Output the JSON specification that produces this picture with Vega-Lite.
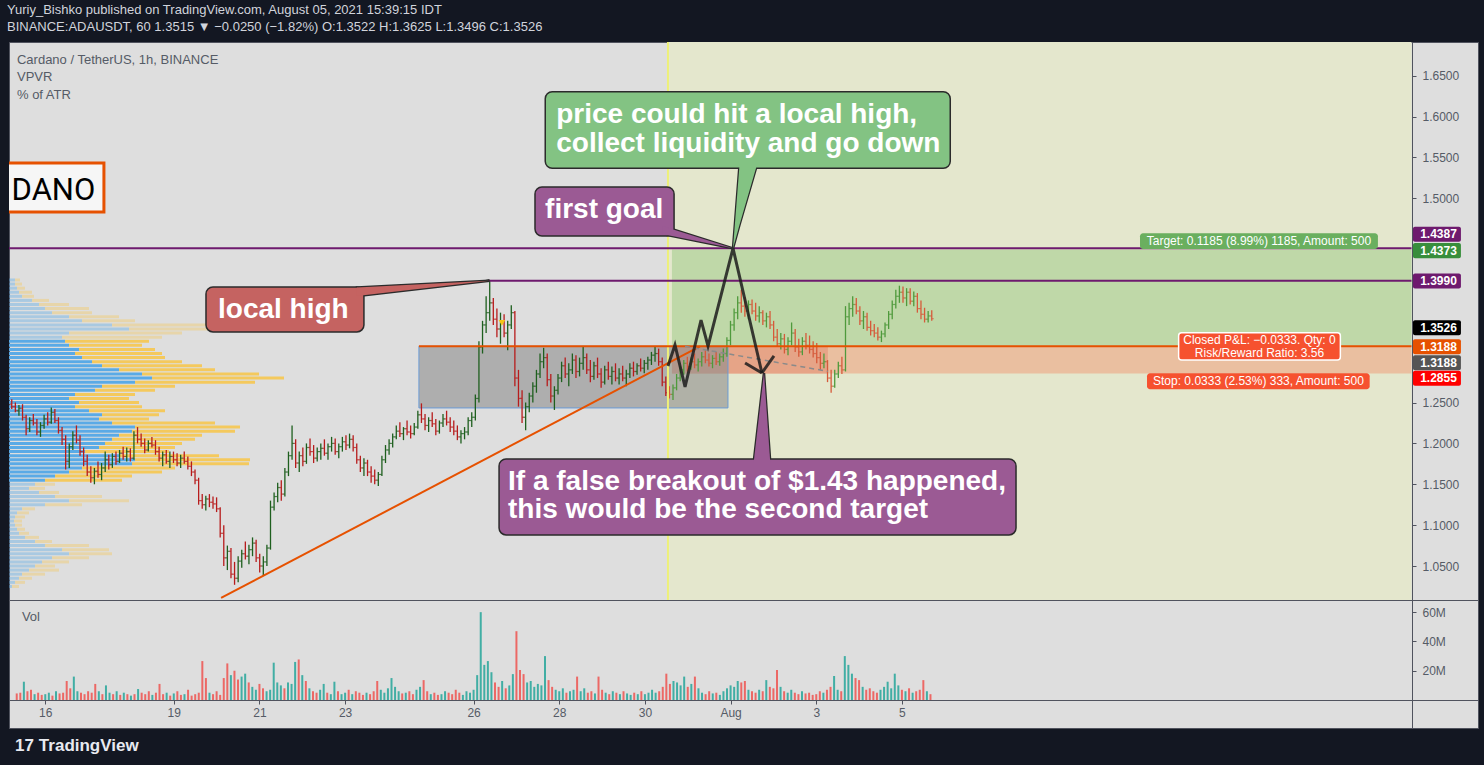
{
"$schema": "https://vega.github.io/schema/vega-lite/v6.json",
"background": "#131722",
"padding": {"left": 7, "right": 8, "top": 3, "bottom": 10},
"bounds": "flush",
"title": {"text": "Yuriy_Bishko published on TradingView.com, August 05, 2021 15:39:15 IDT", "subtitle": "BINANCE:ADAUSDT, 60  1.3515 ▼ −0.0250 (−1.82%)  O:1.3522  H:1.3625  L:1.3496  C:1.3526", "anchor": "start", "font": "Liberation Sans", "fontSize": 13, "fontWeight": "normal", "color": "#d1d4dc", "subtitleFont": "Liberation Sans", "subtitleFontSize": 13, "subtitleColor": "#d1d4dc", "subtitleFontWeight": "normal", "subtitlePadding": 4, "offset": 7},
"config": {
  "view": {"stroke": "#50535e", "strokeWidth": 1, "fill": "#dedede"},
  "legend": {"disable": true},
  "axis": {"grid": false, "domainColor": "#50535e", "tickColor": "#50535e", "labelColor": "#555b66", "labelFont": "Liberation Sans", "labelFontSize": 12, "tickSize": 4}
},
"spacing": 0,
"datasets": {
"bars": [
{"t":-16,"o":1.248,"hi":1.254,"lo":1.242,"c":1.245,"v":4.5},
{"t":-14,"o":1.245,"hi":1.25,"lo":1.238,"c":1.24,"v":5},
{"t":-12,"o":1.24,"hi":1.247,"lo":1.234,"c":1.243,"v":12.5},
{"t":-10,"o":1.243,"hi":1.248,"lo":1.228,"c":1.232,"v":6},
{"t":-8,"o":1.232,"hi":1.235,"lo":1.21,"c":1.218,"v":7},
{"t":-6,"o":1.218,"hi":1.232,"lo":1.214,"c":1.228,"v":4},
{"t":-4,"o":1.228,"hi":1.236,"lo":1.222,"c":1.225,"v":5},
{"t":-2,"o":1.225,"hi":1.23,"lo":1.21,"c":1.214,"v":3.5},
{"t":0,"o":1.214,"hi":1.226,"lo":1.208,"c":1.222,"v":4},
{"t":2,"o":1.222,"hi":1.235,"lo":1.218,"c":1.23,"v":5},
{"t":4,"o":1.23,"hi":1.238,"lo":1.222,"c":1.226,"v":3},
{"t":6,"o":1.226,"hi":1.244,"lo":1.224,"c":1.238,"v":6},
{"t":8,"o":1.238,"hi":1.242,"lo":1.225,"c":1.228,"v":4.5},
{"t":10,"o":1.228,"hi":1.232,"lo":1.212,"c":1.216,"v":5},
{"t":12,"o":1.216,"hi":1.22,"lo":1.198,"c":1.205,"v":13},
{"t":14,"o":1.205,"hi":1.21,"lo":1.168,"c":1.178,"v":8},
{"t":16,"o":1.178,"hi":1.2,"lo":1.17,"c":1.196,"v":16},
{"t":18,"o":1.196,"hi":1.215,"lo":1.192,"c":1.21,"v":6},
{"t":20,"o":1.21,"hi":1.222,"lo":1.2,"c":1.204,"v":5},
{"t":22,"o":1.204,"hi":1.21,"lo":1.185,"c":1.19,"v":4},
{"t":24,"o":1.19,"hi":1.195,"lo":1.172,"c":1.178,"v":6},
{"t":26,"o":1.178,"hi":1.186,"lo":1.16,"c":1.165,"v":5},
{"t":28,"o":1.165,"hi":1.172,"lo":1.152,"c":1.158,"v":11},
{"t":30,"o":1.158,"hi":1.17,"lo":1.15,"c":1.166,"v":6},
{"t":32,"o":1.166,"hi":1.178,"lo":1.158,"c":1.162,"v":4},
{"t":34,"o":1.162,"hi":1.176,"lo":1.155,"c":1.17,"v":10},
{"t":36,"o":1.17,"hi":1.19,"lo":1.165,"c":1.18,"v":5},
{"t":38,"o":1.18,"hi":1.186,"lo":1.168,"c":1.174,"v":4},
{"t":40,"o":1.174,"hi":1.188,"lo":1.17,"c":1.184,"v":6},
{"t":42,"o":1.184,"hi":1.19,"lo":1.174,"c":1.178,"v":3.5},
{"t":44,"o":1.178,"hi":1.192,"lo":1.176,"c":1.188,"v":5},
{"t":46,"o":1.188,"hi":1.196,"lo":1.18,"c":1.184,"v":4},
{"t":48,"o":1.184,"hi":1.195,"lo":1.178,"c":1.19,"v":3},
{"t":50,"o":1.19,"hi":1.194,"lo":1.178,"c":1.182,"v":4},
{"t":52,"o":1.182,"hi":1.215,"lo":1.18,"c":1.21,"v":7.5},
{"t":54,"o":1.21,"hi":1.22,"lo":1.2,"c":1.205,"v":5},
{"t":56,"o":1.205,"hi":1.212,"lo":1.196,"c":1.2,"v":4},
{"t":58,"o":1.2,"hi":1.206,"lo":1.188,"c":1.192,"v":6},
{"t":60,"o":1.192,"hi":1.204,"lo":1.19,"c":1.2,"v":3.5},
{"t":62,"o":1.2,"hi":1.208,"lo":1.195,"c":1.198,"v":5},
{"t":64,"o":1.198,"hi":1.204,"lo":1.186,"c":1.19,"v":11},
{"t":66,"o":1.19,"hi":1.196,"lo":1.178,"c":1.182,"v":4},
{"t":68,"o":1.182,"hi":1.19,"lo":1.172,"c":1.186,"v":5},
{"t":70,"o":1.186,"hi":1.192,"lo":1.175,"c":1.178,"v":3},
{"t":72,"o":1.178,"hi":1.19,"lo":1.17,"c":1.184,"v":4.5},
{"t":74,"o":1.184,"hi":1.19,"lo":1.176,"c":1.18,"v":6},
{"t":76,"o":1.18,"hi":1.188,"lo":1.172,"c":1.176,"v":3.5},
{"t":78,"o":1.176,"hi":1.186,"lo":1.17,"c":1.182,"v":4},
{"t":80,"o":1.182,"hi":1.19,"lo":1.175,"c":1.178,"v":7},
{"t":82,"o":1.178,"hi":1.184,"lo":1.168,"c":1.172,"v":3},
{"t":84,"o":1.172,"hi":1.178,"lo":1.16,"c":1.165,"v":4},
{"t":86,"o":1.165,"hi":1.168,"lo":1.15,"c":1.155,"v":5},
{"t":88,"o":1.155,"hi":1.158,"lo":1.125,"c":1.13,"v":26.6},
{"t":90,"o":1.13,"hi":1.138,"lo":1.12,"c":1.125,"v":15},
{"t":92,"o":1.125,"hi":1.136,"lo":1.118,"c":1.132,"v":5},
{"t":94,"o":1.132,"hi":1.138,"lo":1.122,"c":1.128,"v":4},
{"t":96,"o":1.128,"hi":1.135,"lo":1.12,"c":1.126,"v":6},
{"t":98,"o":1.126,"hi":1.134,"lo":1.116,"c":1.12,"v":3.5},
{"t":100,"o":1.12,"hi":1.122,"lo":1.085,"c":1.09,"v":15},
{"t":102,"o":1.09,"hi":1.1,"lo":1.05,"c":1.06,"v":25},
{"t":104,"o":1.06,"hi":1.075,"lo":1.045,"c":1.068,"v":17},
{"t":106,"o":1.068,"hi":1.072,"lo":1.035,"c":1.04,"v":20},
{"t":108,"o":1.04,"hi":1.055,"lo":1.027,"c":1.035,"v":14},
{"t":110,"o":1.035,"hi":1.062,"lo":1.03,"c":1.056,"v":16},
{"t":112,"o":1.056,"hi":1.07,"lo":1.048,"c":1.065,"v":18},
{"t":114,"o":1.065,"hi":1.08,"lo":1.058,"c":1.062,"v":12},
{"t":116,"o":1.062,"hi":1.076,"lo":1.052,"c":1.07,"v":9},
{"t":118,"o":1.07,"hi":1.085,"lo":1.062,"c":1.078,"v":7},
{"t":120,"o":1.078,"hi":1.082,"lo":1.055,"c":1.06,"v":11},
{"t":122,"o":1.06,"hi":1.065,"lo":1.042,"c":1.05,"v":8},
{"t":124,"o":1.05,"hi":1.062,"lo":1.038,"c":1.055,"v":6},
{"t":126,"o":1.055,"hi":1.076,"lo":1.05,"c":1.072,"v":7},
{"t":128,"o":1.072,"hi":1.13,"lo":1.07,"c":1.122,"v":25.5},
{"t":130,"o":1.122,"hi":1.14,"lo":1.118,"c":1.135,"v":12},
{"t":132,"o":1.135,"hi":1.152,"lo":1.128,"c":1.146,"v":10},
{"t":134,"o":1.146,"hi":1.155,"lo":1.13,"c":1.138,"v":8},
{"t":136,"o":1.138,"hi":1.17,"lo":1.135,"c":1.165,"v":12},
{"t":138,"o":1.165,"hi":1.19,"lo":1.16,"c":1.185,"v":11},
{"t":140,"o":1.185,"hi":1.222,"lo":1.18,"c":1.2,"v":26},
{"t":142,"o":1.2,"hi":1.205,"lo":1.17,"c":1.176,"v":27.7},
{"t":144,"o":1.176,"hi":1.19,"lo":1.165,"c":1.185,"v":17},
{"t":146,"o":1.185,"hi":1.195,"lo":1.172,"c":1.178,"v":13},
{"t":148,"o":1.178,"hi":1.2,"lo":1.175,"c":1.195,"v":8},
{"t":150,"o":1.195,"hi":1.206,"lo":1.185,"c":1.19,"v":6},
{"t":152,"o":1.19,"hi":1.198,"lo":1.176,"c":1.182,"v":5},
{"t":154,"o":1.182,"hi":1.195,"lo":1.178,"c":1.19,"v":7},
{"t":156,"o":1.19,"hi":1.2,"lo":1.18,"c":1.194,"v":11},
{"t":158,"o":1.194,"hi":1.205,"lo":1.185,"c":1.188,"v":5},
{"t":160,"o":1.188,"hi":1.2,"lo":1.18,"c":1.196,"v":4},
{"t":162,"o":1.196,"hi":1.208,"lo":1.19,"c":1.2,"v":12.5},
{"t":164,"o":1.2,"hi":1.206,"lo":1.186,"c":1.19,"v":6},
{"t":166,"o":1.19,"hi":1.2,"lo":1.182,"c":1.196,"v":4},
{"t":168,"o":1.196,"hi":1.208,"lo":1.19,"c":1.202,"v":5},
{"t":170,"o":1.202,"hi":1.21,"lo":1.192,"c":1.198,"v":7},
{"t":172,"o":1.198,"hi":1.212,"lo":1.194,"c":1.205,"v":4},
{"t":174,"o":1.205,"hi":1.21,"lo":1.19,"c":1.195,"v":6},
{"t":176,"o":1.195,"hi":1.2,"lo":1.175,"c":1.18,"v":5},
{"t":178,"o":1.18,"hi":1.185,"lo":1.165,"c":1.17,"v":3.5},
{"t":180,"o":1.17,"hi":1.182,"lo":1.16,"c":1.176,"v":5},
{"t":182,"o":1.176,"hi":1.18,"lo":1.16,"c":1.165,"v":4},
{"t":184,"o":1.165,"hi":1.172,"lo":1.152,"c":1.16,"v":6},
{"t":186,"o":1.16,"hi":1.168,"lo":1.15,"c":1.155,"v":13},
{"t":188,"o":1.155,"hi":1.165,"lo":1.148,"c":1.162,"v":7},
{"t":190,"o":1.162,"hi":1.185,"lo":1.16,"c":1.18,"v":5},
{"t":192,"o":1.18,"hi":1.198,"lo":1.176,"c":1.192,"v":8},
{"t":194,"o":1.192,"hi":1.205,"lo":1.186,"c":1.2,"v":15},
{"t":196,"o":1.2,"hi":1.212,"lo":1.195,"c":1.208,"v":9},
{"t":198,"o":1.208,"hi":1.222,"lo":1.205,"c":1.215,"v":6},
{"t":200,"o":1.215,"hi":1.226,"lo":1.208,"c":1.212,"v":4.5},
{"t":202,"o":1.212,"hi":1.22,"lo":1.204,"c":1.218,"v":5},
{"t":204,"o":1.218,"hi":1.228,"lo":1.21,"c":1.214,"v":6},
{"t":206,"o":1.214,"hi":1.222,"lo":1.206,"c":1.212,"v":4},
{"t":208,"o":1.212,"hi":1.225,"lo":1.21,"c":1.22,"v":7},
{"t":210,"o":1.22,"hi":1.24,"lo":1.218,"c":1.235,"v":9},
{"t":212,"o":1.235,"hi":1.249,"lo":1.225,"c":1.23,"v":13.6},
{"t":214,"o":1.23,"hi":1.236,"lo":1.216,"c":1.222,"v":6},
{"t":216,"o":1.222,"hi":1.232,"lo":1.214,"c":1.228,"v":4},
{"t":218,"o":1.228,"hi":1.238,"lo":1.22,"c":1.224,"v":5},
{"t":220,"o":1.224,"hi":1.23,"lo":1.21,"c":1.215,"v":3.5},
{"t":222,"o":1.215,"hi":1.228,"lo":1.212,"c":1.225,"v":4},
{"t":224,"o":1.225,"hi":1.236,"lo":1.22,"c":1.23,"v":6},
{"t":226,"o":1.23,"hi":1.24,"lo":1.222,"c":1.226,"v":5},
{"t":228,"o":1.226,"hi":1.232,"lo":1.214,"c":1.22,"v":4},
{"t":230,"o":1.22,"hi":1.228,"lo":1.21,"c":1.215,"v":7},
{"t":232,"o":1.215,"hi":1.222,"lo":1.204,"c":1.208,"v":5},
{"t":234,"o":1.208,"hi":1.216,"lo":1.2,"c":1.212,"v":3.5},
{"t":236,"o":1.212,"hi":1.22,"lo":1.205,"c":1.214,"v":6},
{"t":238,"o":1.214,"hi":1.232,"lo":1.21,"c":1.228,"v":5},
{"t":240,"o":1.228,"hi":1.238,"lo":1.22,"c":1.232,"v":7},
{"t":242,"o":1.232,"hi":1.26,"lo":1.228,"c":1.255,"v":17},
{"t":244,"o":1.255,"hi":1.325,"lo":1.25,"c":1.318,"v":60},
{"t":246,"o":1.318,"hi":1.35,"lo":1.31,"c":1.345,"v":24},
{"t":248,"o":1.345,"hi":1.38,"lo":1.335,"c":1.36,"v":26.6},
{"t":250,"o":1.36,"hi":1.399,"lo":1.35,"c":1.372,"v":19},
{"t":252,"o":1.372,"hi":1.378,"lo":1.345,"c":1.352,"v":12},
{"t":254,"o":1.352,"hi":1.365,"lo":1.33,"c":1.34,"v":9},
{"t":256,"o":1.34,"hi":1.36,"lo":1.322,"c":1.35,"v":13},
{"t":258,"o":1.35,"hi":1.358,"lo":1.33,"c":1.335,"v":8},
{"t":260,"o":1.335,"hi":1.35,"lo":1.314,"c":1.345,"v":10},
{"t":262,"o":1.345,"hi":1.369,"lo":1.34,"c":1.36,"v":17.7},
{"t":264,"o":1.36,"hi":1.362,"lo":1.27,"c":1.28,"v":47},
{"t":266,"o":1.28,"hi":1.29,"lo":1.245,"c":1.255,"v":20.5},
{"t":268,"o":1.255,"hi":1.265,"lo":1.225,"c":1.232,"v":17.7},
{"t":270,"o":1.232,"hi":1.25,"lo":1.216,"c":1.245,"v":12},
{"t":272,"o":1.245,"hi":1.262,"lo":1.238,"c":1.258,"v":13},
{"t":274,"o":1.258,"hi":1.275,"lo":1.25,"c":1.27,"v":9},
{"t":276,"o":1.27,"hi":1.29,"lo":1.262,"c":1.285,"v":11},
{"t":278,"o":1.285,"hi":1.31,"lo":1.28,"c":1.3,"v":10},
{"t":280,"o":1.3,"hi":1.317,"lo":1.292,"c":1.305,"v":30},
{"t":282,"o":1.305,"hi":1.31,"lo":1.27,"c":1.278,"v":13.6},
{"t":284,"o":1.278,"hi":1.285,"lo":1.25,"c":1.258,"v":9},
{"t":286,"o":1.258,"hi":1.27,"lo":1.241,"c":1.265,"v":7},
{"t":288,"o":1.265,"hi":1.285,"lo":1.26,"c":1.28,"v":6},
{"t":290,"o":1.28,"hi":1.3,"lo":1.275,"c":1.295,"v":8},
{"t":292,"o":1.295,"hi":1.305,"lo":1.28,"c":1.285,"v":5},
{"t":294,"o":1.285,"hi":1.298,"lo":1.27,"c":1.29,"v":6},
{"t":296,"o":1.29,"hi":1.31,"lo":1.285,"c":1.302,"v":7},
{"t":298,"o":1.302,"hi":1.308,"lo":1.28,"c":1.288,"v":16},
{"t":300,"o":1.288,"hi":1.305,"lo":1.282,"c":1.298,"v":6},
{"t":302,"o":1.298,"hi":1.318,"lo":1.29,"c":1.305,"v":8},
{"t":304,"o":1.305,"hi":1.31,"lo":1.285,"c":1.29,"v":5},
{"t":306,"o":1.29,"hi":1.302,"lo":1.275,"c":1.282,"v":6},
{"t":308,"o":1.282,"hi":1.3,"lo":1.278,"c":1.295,"v":4.5},
{"t":310,"o":1.295,"hi":1.305,"lo":1.28,"c":1.285,"v":16},
{"t":312,"o":1.285,"hi":1.292,"lo":1.268,"c":1.275,"v":7},
{"t":314,"o":1.275,"hi":1.295,"lo":1.272,"c":1.29,"v":5},
{"t":316,"o":1.29,"hi":1.3,"lo":1.278,"c":1.282,"v":4},
{"t":318,"o":1.282,"hi":1.294,"lo":1.272,"c":1.288,"v":6},
{"t":320,"o":1.288,"hi":1.298,"lo":1.276,"c":1.28,"v":5},
{"t":322,"o":1.28,"hi":1.292,"lo":1.272,"c":1.285,"v":4},
{"t":324,"o":1.285,"hi":1.295,"lo":1.276,"c":1.28,"v":6},
{"t":326,"o":1.28,"hi":1.29,"lo":1.27,"c":1.285,"v":4.5},
{"t":328,"o":1.285,"hi":1.298,"lo":1.28,"c":1.292,"v":3.5},
{"t":330,"o":1.292,"hi":1.3,"lo":1.282,"c":1.288,"v":5},
{"t":332,"o":1.288,"hi":1.298,"lo":1.284,"c":1.295,"v":4},
{"t":334,"o":1.295,"hi":1.304,"lo":1.288,"c":1.292,"v":6},
{"t":336,"o":1.292,"hi":1.302,"lo":1.286,"c":1.298,"v":4},
{"t":338,"o":1.298,"hi":1.306,"lo":1.29,"c":1.302,"v":5},
{"t":340,"o":1.302,"hi":1.312,"lo":1.296,"c":1.308,"v":7},
{"t":342,"o":1.308,"hi":1.318,"lo":1.3,"c":1.31,"v":5},
{"t":344,"o":1.31,"hi":1.316,"lo":1.295,"c":1.3,"v":6},
{"t":346,"o":1.3,"hi":1.305,"lo":1.27,"c":1.275,"v":9},
{"t":348,"o":1.275,"hi":1.282,"lo":1.258,"c":1.262,"v":18},
{"t":350,"o":1.262,"hi":1.27,"lo":1.255,"c":1.26,"v":11},
{"t":352,"o":1.26,"hi":1.272,"lo":1.253,"c":1.268,"v":13},
{"t":354,"o":1.268,"hi":1.285,"lo":1.265,"c":1.28,"v":12},
{"t":356,"o":1.28,"hi":1.295,"lo":1.276,"c":1.29,"v":10},
{"t":358,"o":1.29,"hi":1.302,"lo":1.284,"c":1.298,"v":16},
{"t":360,"o":1.298,"hi":1.306,"lo":1.288,"c":1.294,"v":9},
{"t":362,"o":1.294,"hi":1.305,"lo":1.29,"c":1.3,"v":11},
{"t":364,"o":1.3,"hi":1.31,"lo":1.292,"c":1.296,"v":16},
{"t":366,"o":1.296,"hi":1.304,"lo":1.288,"c":1.3,"v":8},
{"t":368,"o":1.3,"hi":1.312,"lo":1.294,"c":1.306,"v":5},
{"t":370,"o":1.306,"hi":1.314,"lo":1.298,"c":1.302,"v":4},
{"t":372,"o":1.302,"hi":1.31,"lo":1.294,"c":1.298,"v":6},
{"t":374,"o":1.298,"hi":1.308,"lo":1.292,"c":1.304,"v":4.5},
{"t":376,"o":1.304,"hi":1.312,"lo":1.296,"c":1.3,"v":5},
{"t":378,"o":1.3,"hi":1.31,"lo":1.295,"c":1.306,"v":3.5},
{"t":380,"o":1.306,"hi":1.316,"lo":1.3,"c":1.31,"v":6},
{"t":382,"o":1.31,"hi":1.33,"lo":1.306,"c":1.326,"v":8},
{"t":384,"o":1.326,"hi":1.35,"lo":1.32,"c":1.345,"v":10},
{"t":386,"o":1.345,"hi":1.365,"lo":1.338,"c":1.36,"v":9},
{"t":388,"o":1.36,"hi":1.38,"lo":1.352,"c":1.372,"v":13},
{"t":390,"o":1.372,"hi":1.388,"lo":1.36,"c":1.368,"v":12},
{"t":392,"o":1.368,"hi":1.379,"lo":1.355,"c":1.362,"v":13},
{"t":394,"o":1.362,"hi":1.375,"lo":1.352,"c":1.37,"v":7},
{"t":396,"o":1.37,"hi":1.376,"lo":1.358,"c":1.362,"v":6},
{"t":398,"o":1.362,"hi":1.372,"lo":1.35,"c":1.356,"v":5},
{"t":400,"o":1.356,"hi":1.368,"lo":1.348,"c":1.36,"v":7},
{"t":402,"o":1.36,"hi":1.363,"lo":1.345,"c":1.35,"v":6},
{"t":404,"o":1.35,"hi":1.36,"lo":1.342,"c":1.355,"v":13.6},
{"t":406,"o":1.355,"hi":1.362,"lo":1.34,"c":1.345,"v":9},
{"t":408,"o":1.345,"hi":1.35,"lo":1.325,"c":1.33,"v":8},
{"t":410,"o":1.33,"hi":1.34,"lo":1.318,"c":1.322,"v":20.5},
{"t":412,"o":1.322,"hi":1.335,"lo":1.315,"c":1.328,"v":9},
{"t":414,"o":1.328,"hi":1.334,"lo":1.31,"c":1.315,"v":6},
{"t":416,"o":1.315,"hi":1.33,"lo":1.308,"c":1.325,"v":5},
{"t":418,"o":1.325,"hi":1.348,"lo":1.32,"c":1.335,"v":7},
{"t":420,"o":1.335,"hi":1.34,"lo":1.312,"c":1.318,"v":5},
{"t":422,"o":1.318,"hi":1.328,"lo":1.306,"c":1.312,"v":4},
{"t":424,"o":1.312,"hi":1.33,"lo":1.308,"c":1.325,"v":6},
{"t":426,"o":1.325,"hi":1.335,"lo":1.315,"c":1.32,"v":4.5},
{"t":428,"o":1.32,"hi":1.332,"lo":1.31,"c":1.315,"v":5},
{"t":430,"o":1.315,"hi":1.325,"lo":1.305,"c":1.31,"v":3.5},
{"t":432,"o":1.31,"hi":1.323,"lo":1.298,"c":1.305,"v":4},
{"t":434,"o":1.305,"hi":1.312,"lo":1.29,"c":1.298,"v":6},
{"t":436,"o":1.298,"hi":1.31,"lo":1.292,"c":1.3,"v":5},
{"t":438,"o":1.3,"hi":1.302,"lo":1.275,"c":1.28,"v":7},
{"t":440,"o":1.28,"hi":1.29,"lo":1.262,"c":1.27,"v":9},
{"t":442,"o":1.27,"hi":1.29,"lo":1.268,"c":1.285,"v":16.4},
{"t":444,"o":1.285,"hi":1.3,"lo":1.28,"c":1.295,"v":7},
{"t":446,"o":1.295,"hi":1.306,"lo":1.285,"c":1.29,"v":6},
{"t":448,"o":1.29,"hi":1.368,"lo":1.288,"c":1.355,"v":30},
{"t":450,"o":1.355,"hi":1.372,"lo":1.345,"c":1.365,"v":24},
{"t":452,"o":1.365,"hi":1.38,"lo":1.355,"c":1.37,"v":18},
{"t":454,"o":1.37,"hi":1.378,"lo":1.358,"c":1.362,"v":15},
{"t":456,"o":1.362,"hi":1.368,"lo":1.345,"c":1.35,"v":13.6},
{"t":458,"o":1.35,"hi":1.362,"lo":1.34,"c":1.355,"v":9},
{"t":460,"o":1.355,"hi":1.36,"lo":1.338,"c":1.342,"v":7},
{"t":462,"o":1.342,"hi":1.35,"lo":1.332,"c":1.338,"v":8},
{"t":464,"o":1.338,"hi":1.346,"lo":1.33,"c":1.335,"v":6},
{"t":466,"o":1.335,"hi":1.342,"lo":1.326,"c":1.33,"v":5},
{"t":468,"o":1.33,"hi":1.338,"lo":1.324,"c":1.334,"v":7},
{"t":470,"o":1.334,"hi":1.348,"lo":1.33,"c":1.345,"v":9},
{"t":472,"o":1.345,"hi":1.362,"lo":1.34,"c":1.358,"v":12.5},
{"t":474,"o":1.358,"hi":1.375,"lo":1.352,"c":1.37,"v":8},
{"t":476,"o":1.37,"hi":1.388,"lo":1.365,"c":1.38,"v":18},
{"t":478,"o":1.38,"hi":1.393,"lo":1.372,"c":1.385,"v":10},
{"t":480,"o":1.385,"hi":1.392,"lo":1.372,"c":1.378,"v":7},
{"t":482,"o":1.378,"hi":1.39,"lo":1.368,"c":1.385,"v":6},
{"t":484,"o":1.385,"hi":1.39,"lo":1.37,"c":1.374,"v":8},
{"t":486,"o":1.374,"hi":1.386,"lo":1.368,"c":1.38,"v":5},
{"t":488,"o":1.38,"hi":1.384,"lo":1.36,"c":1.365,"v":6},
{"t":490,"o":1.365,"hi":1.375,"lo":1.352,"c":1.358,"v":7},
{"t":492,"o":1.358,"hi":1.366,"lo":1.348,"c":1.352,"v":13.6},
{"t":494,"o":1.352,"hi":1.362,"lo":1.348,"c":1.356,"v":6},
{"t":496,"o":1.356,"hi":1.363,"lo":1.35,"c":1.3526,"v":4}
],
"profile": [
{"p":1.4,"x0":-17.53,"xu":-14.19,"xt":-11.41},{"p":1.395,"x0":-17.53,"xu":-14.19,"xt":-10.3},{"p":1.39,"x0":-17.53,"xu":-13.08,"xt":-8.63},
{"p":1.385,"x0":-17.53,"xu":-11.96,"xt":-4.73},{"p":1.38,"x0":-17.53,"xu":-10.3,"xt":-3.62},{"p":1.375,"x0":-17.53,"xu":-4.73,"xt":4.73},
{"p":1.37,"x0":-17.53,"xu":-0.83,"xt":15.86},{"p":1.365,"x0":-17.53,"xu":2.5,"xt":26.99},{"p":1.36,"x0":-17.53,"xu":6.4,"xt":28.66},
{"p":1.355,"x0":-17.53,"xu":15.86,"xt":43.69},{"p":1.35,"x0":-17.53,"xu":23.1,"xt":52.59},{"p":1.345,"x0":-17.53,"xu":39.79,"xt":116.03},
{"p":1.34,"x0":-17.53,"xu":49.25,"xt":108.24},{"p":1.335,"x0":-17.53,"xu":15.86,"xt":78.75},{"p":1.33,"x0":-17.53,"xu":11.97,"xt":67.62},
{"p":1.325,"x0":-17.53,"xu":13.64,"xt":60.38},{"p":1.32,"x0":-17.53,"xu":15.86,"xt":56.49},{"p":1.315,"x0":-17.53,"xu":21.43,"xt":63.72},
{"p":1.31,"x0":-17.53,"xu":19.2,"xt":67.62},{"p":1.305,"x0":-17.53,"xu":23.1,"xt":69.29},{"p":1.3,"x0":-17.53,"xu":28.66,"xt":78.75},
{"p":1.295,"x0":-17.53,"xu":34.23,"xt":89.88},{"p":1.29,"x0":-17.53,"xu":43.69,"xt":97.11},{"p":1.285,"x0":-17.53,"xu":56.49,"xt":121.6},
{"p":1.28,"x0":-17.53,"xu":62.05,"xt":135.51},{"p":1.275,"x0":-17.53,"xu":52.59,"xt":119.37},{"p":1.27,"x0":-17.53,"xu":34.23,"xt":74.85},
{"p":1.265,"x0":-17.53,"xu":30.33,"xt":63.72},{"p":1.26,"x0":-17.53,"xu":19.2,"xt":52.59},{"p":1.255,"x0":-17.53,"xu":15.86,"xt":49.25},
{"p":1.25,"x0":-17.53,"xu":21.43,"xt":54.82},{"p":1.245,"x0":-17.53,"xu":19.2,"xt":56.49},{"p":1.24,"x0":-17.53,"xu":26.99,"xt":69.29},
{"p":1.235,"x0":-17.53,"xu":34.23,"xt":65.95},{"p":1.23,"x0":-17.53,"xu":32.56,"xt":60.38},{"p":1.225,"x0":-17.53,"xu":39.79,"xt":97.11},
{"p":1.22,"x0":-17.53,"xu":52.59,"xt":111.03},{"p":1.215,"x0":-17.53,"xu":50.92,"xt":108.24},{"p":1.21,"x0":-17.53,"xu":43.69,"xt":89.88},
{"p":1.205,"x0":-17.53,"xu":39.79,"xt":85.98},{"p":1.2,"x0":-17.53,"xu":35.9,"xt":78.75},{"p":1.195,"x0":-17.53,"xu":32.56,"xt":74.85},
{"p":1.19,"x0":-17.53,"xu":24.77,"xt":71.51},{"p":1.185,"x0":-17.53,"xu":43.69,"xt":99.34},{"p":1.18,"x0":-17.53,"xu":52.59,"xt":116.59},
{"p":1.175,"x0":-17.53,"xu":50.92,"xt":116.03},{"p":1.17,"x0":-17.53,"xu":23.1,"xt":74.85},{"p":1.165,"x0":-17.53,"xu":15.86,"xt":67.62},
{"p":1.16,"x0":-17.53,"xu":8.07,"xt":50.92},{"p":1.155,"x0":-17.53,"xu":2.5,"xt":45.36},{"p":1.15,"x0":-17.53,"xu":-3.06,"xt":8.07},
{"p":1.145,"x0":-17.53,"xu":-6.4,"xt":2.5},{"p":1.14,"x0":-17.53,"xu":-0.83,"xt":10.3},{"p":1.135,"x0":-17.53,"xu":8.07,"xt":34.23},
{"p":1.13,"x0":-17.53,"xu":15.86,"xt":49.25},{"p":1.125,"x0":-17.53,"xu":2.5,"xt":23.1},{"p":1.12,"x0":-17.53,"xu":-10.3,"xt":-3.06},
{"p":1.115,"x0":-17.53,"xu":-13.08,"xt":-6.4},{"p":1.11,"x0":-17.53,"xu":-14.19,"xt":-8.63},{"p":1.105,"x0":-17.53,"xu":-14.75,"xt":-10.3},
{"p":1.1,"x0":-17.53,"xu":-14.19,"xt":-10.3},{"p":1.095,"x0":-17.53,"xu":-13.08,"xt":-8.63},{"p":1.09,"x0":-17.53,"xu":-11.96,"xt":-6.4},
{"p":1.085,"x0":-17.53,"xu":-8.63,"xt":-0.83},{"p":1.08,"x0":-17.53,"xu":-3.06,"xt":6.4},{"p":1.075,"x0":-17.53,"xu":2.5,"xt":26.99},
{"p":1.07,"x0":-17.53,"xu":11.97,"xt":38.12},{"p":1.065,"x0":-17.53,"xu":15.86,"xt":39.79},{"p":1.06,"x0":-17.53,"xu":6.4,"xt":26.99},
{"p":1.055,"x0":-17.53,"xu":0.84,"xt":15.86},{"p":1.05,"x0":-17.53,"xu":-3.06,"xt":8.07},{"p":1.045,"x0":-17.53,"xu":-6.4,"xt":10.3},
{"p":1.04,"x0":-17.53,"xu":-10.3,"xt":2.5},{"p":1.035,"x0":-17.53,"xu":-11.96,"xt":-4.73},{"p":1.03,"x0":-17.53,"xu":-14.19,"xt":-8.63},
{"p":1.025,"x0":-17.53,"xu":-15.86,"xt":-11.96}
],
"zones": [
{"k":"range","t1":349.2,"t2":763.0,"p1":1.0084,"p2":1.6912},
{"k":"target","t1":351.4,"t2":763.0,"p1":1.3188,"p2":1.4373},
{"k":"stop","t1":351.4,"t2":763.0,"p1":1.2855,"p2":1.3188},
{"k":"stopHit","t1":351.4,"t2":438.2,"p1":1.2855,"p2":1.3188}
],
"box": [{"t1":210.6,"t2":382.6,"p1":1.2434,"p2":1.3188}],
"lines": [
{"k":"edge","t1":349.2,"p1":1.0084,"t2":349.2,"p2":1.6912},
{"k":"res","t1":-17.53,"p1":1.4387,"t2":763.0,"p2":1.4387},
{"k":"res","t1":249.6,"p1":1.399,"t2":763.0,"p2":1.399},
{"k":"sup","t1":210.6,"p1":1.3188,"t2":763.0,"p2":1.3188},
{"k":"sup","t1":100.5,"p1":1.0109,"t2":367.0,"p2":1.3188}
],
"trade": [{"t1":358.7,"p1":1.3188,"t2":438.3,"p2":1.2882}],
"path": [
{"i":0,"t":349.2,"p":1.2948},{"i":1,"t":353.1,"p":1.3205},{"i":2,"t":358.7,"p":1.2691},{"i":3,"t":367.6,"p":1.351},
{"i":4,"t":371.5,"p":1.3192},{"i":5,"t":385.4,"p":1.4387},{"i":6,"t":401.5,"p":1.2862}
],
"arrow": [{"t1":392.1,"p1":1.2984,"t2":401.5,"p2":1.2862},{"t1":408.2,"p1":1.307,"t2":401.5,"p2":1.2862}],
"marker": [{"t":256.8,"p":1.3474}],
"notes": [
{"k":"localHigh","t1":92.1,"t2":180.0,"p1":1.3364,"p2":1.3914,"tx":98.8,"py":1.3531,"text":"local high"},
{"k":"firstGoal","t1":275.2,"t2":352.6,"p1":1.4538,"p2":1.5138,"tx":280.8,"py":1.4755,"text":"first goal"},
{"k":"liquidity","t1":280.9,"t2":506.3,"p1":1.5367,"p2":1.6304,"tx":287.0,"py":1.5918,"text":"price could hit a local high,\ncollect liquidity and go down"},
{"k":"second","t1":255.2,"t2":542.9,"p1":1.088,"p2":1.181,"tx":260.2,"py":1.143,"text":"If a false breakout of $1.43 happened,\nthis would be the second target"}
],
"wedges": [
{"k":"localHigh","t":176.1,"a":1.3908,"b":1.3804},{"k":"localHigh","t":249.9,"a":1.399,"b":1.399},
{"k":"firstGoal","t":345.9,"a":1.4661,"b":1.4563},{"k":"firstGoal","t":385.4,"a":1.4387,"b":1.4387},
{"k":"liquidity","t":385.4,"a":1.4387,"b":1.4387},{"k":"liquidity","t":389.06,"a":1.542,"b":1.468},{"k":"liquidity","t":398.86,"a":1.542,"b":1.542},
{"k":"second","t":396.86,"a":1.1761,"b":1.1761},{"k":"second","t":402.64,"a":1.2862,"b":1.1761},{"k":"second","t":406.15,"a":1.1761,"b":1.1761}
],
"dano": [{"t1":-25,"t2":35.3,"p1":1.4832,"p2":1.5432,"tx":30.5,"py":1.4979,"text":"DANO"}],
"ptool": [
{"k":"tgtLabel","t1":611.9,"t2":744.3,"p1":1.4379,"p2":1.4571,"tc":678.1,"pc":1.4475,"text":"Target: 0.1185 (8.99%) 1185, Amount: 500"},
{"k":"pnl","t1":633.4,"t2":723.4,"p1":1.3021,"p2":1.3355,"tc":678.4,"pc":1.3266,"text":"Closed P&L: −0.0333. Qty: 0\nRisk/Reward Ratio: 3.56"},
{"k":"stopLabel","t1":615.8,"t2":739.7,"p1":1.2662,"p2":1.2858,"tc":677.8,"pc":1.276,"text":"Stop: 0.0333 (2.53%) 333, Amount: 500"}
],
"tags": [
{"k":"tagRes","t1":763.8,"t2":790.5,"tx":778,"at":1.4559,"lo":1.4467,"hi":1.4651,"label":"1.4387"},
{"k":"tagTarget","t1":763.8,"t2":790.5,"tx":778,"at":1.4359,"lo":1.4267,"hi":1.4451,"label":"1.4373"},
{"k":"tagRes","t1":763.8,"t2":790.5,"tx":778,"at":1.3988,"lo":1.3896,"hi":1.408,"label":"1.3990"},
{"k":"tagLast","t1":763.8,"t2":790.5,"tx":778,"at":1.3416,"lo":1.3324,"hi":1.3508,"label":"1.3526"},
{"k":"tagEntry","t1":763.8,"t2":790.5,"tx":778,"at":1.3184,"lo":1.3092,"hi":1.3276,"label":"1.3188"},
{"k":"tagAvg","t1":763.8,"t2":790.5,"tx":778,"at":1.2988,"lo":1.2896,"hi":1.308,"label":"1.3188"},
{"k":"tagStop","t1":763.8,"t2":790.5,"tx":778,"at":1.2797,"lo":1.2705,"hi":1.2889,"label":"1.2855"}
],
"legendText": [{"line":"Cardano / TetherUS, 1h, BINANCE","x":-13.1,"p":1.6692},{"line":"VPVR","x":-13.1,"p":1.648},{"line":"% of ATR","x":-13.1,"p":1.6264}],
"volLabel": [{"label":"Vol","x":-13.1,"v":56.7}],
"logo": [{"label":"17","x":-17.0,"v":-31.4},{"label":"TradingView","x":-3.6,"v":-31.4}]
},
"vconcat": [
{
 "width": 1469, "height": 558,
 "layer": [
   {"data": {"name": "zones"}, "mark": {"type": "rect"}, "encoding": {
     "x": {"field": "t1", "type": "quantitative", "scale": {"domain": [-17.53, 800], "nice": false, "zero": false}, "axis": null},
     "x2": {"field": "t2"},
     "y": {"field": "p1", "type": "quantitative", "scale": {"domain": [1.0084, 1.6912], "nice": false, "zero": false},
       "axis": {"disable": false, "orient": "right", "offset": -66, "values": [1.05,1.1,1.15,1.2,1.25,1.5,1.55,1.6,1.65], "format": ".4f", "title": null, "tickSize": 4, "labelPadding": 6, "labelFlush": false, "labelOverlap": false}},
     "y2": {"field": "p2"},
     "color": {"field": "k", "type": "nominal", "legend": null, "scale": {
       "domain": ["range","target","stop","stopHit","edge","res","sup","localHigh","firstGoal","liquidity","second","tgtLabel","pnl","stopLabel","tagRes","tagTarget","tagLast","tagEntry","tagAvg","tagStop"],
       "range": ["#e4e7cd","#bfd8a8","#eabfa0","#e6a487","#eef07a","#6e1a6e","#e65100","#c56361","#9b5a94","#83c383","#9b5a94","#6aaf5f","#f6512f","#f6512f","#6e1a6e","#388e3c","#000000","#e65100","#555555","#ff0000"]}}}},
   {"data": {"name": "profile"}, "mark": {"type": "rule", "strokeWidth": 3, "color": "#5aaae6"}, "encoding": {
     "x": {"field": "x0", "type": "quantitative", "axis": null},
     "x2": {"field": "xu"},
     "y": {"field": "p", "type": "quantitative"},
     "opacity": {"condition": {"test": "datum.p > 1.327 || datum.p < 1.152", "value": 0.4}, "value": 1}}},
   {"data": {"name": "profile"}, "mark": {"type": "rule", "strokeWidth": 3, "color": "#f4c95d"}, "encoding": {
     "x": {"field": "xu", "type": "quantitative", "axis": null},
     "x2": {"field": "xt"},
     "y": {"field": "p", "type": "quantitative"},
     "opacity": {"condition": {"test": "datum.p > 1.327 || datum.p < 1.152", "value": 0.4}, "value": 1}}},
   {"data": {"name": "box"}, "mark": {"type": "rect", "fill": "#8e8e8e", "fillOpacity": 0.6, "stroke": "#6b9bd6", "strokeWidth": 1}, "encoding": {
     "x": {"field": "t1", "type": "quantitative", "axis": null}, "x2": {"field": "t2"},
     "y": {"field": "p1", "type": "quantitative"}, "y2": {"field": "p2"}}},
   {"data": {"name": "bars"}, "mark": {"type": "rule", "strokeWidth": 1.3}, "encoding": {
     "x": {"field": "t", "type": "quantitative", "axis": null},
     "y": {"field": "lo", "type": "quantitative"}, "y2": {"field": "hi"},
     "color": {"condition": [{"test": "datum.t >= 349 && datum.c >= datum.o", "value": "#4f9a3c"}, {"test": "datum.t >= 349", "value": "#d65a3a"}, {"test": "datum.c >= datum.o", "value": "#1e5f1e"}], "value": "#b71c1c"}}},
   {"data": {"name": "bars"}, "mark": {"type": "tick", "orient": "horizontal", "size": 2, "thickness": 1.2, "xOffset": -1}, "encoding": {
     "x": {"field": "t", "type": "quantitative", "axis": null},
     "y": {"field": "o", "type": "quantitative"},
     "color": {"condition": [{"test": "datum.t >= 349 && datum.c >= datum.o", "value": "#4f9a3c"}, {"test": "datum.t >= 349", "value": "#d65a3a"}, {"test": "datum.c >= datum.o", "value": "#1e5f1e"}], "value": "#b71c1c"}}},
   {"data": {"name": "bars"}, "mark": {"type": "tick", "orient": "horizontal", "size": 2, "thickness": 1.2, "xOffset": 1}, "encoding": {
     "x": {"field": "t", "type": "quantitative", "axis": null},
     "y": {"field": "c", "type": "quantitative"},
     "color": {"condition": [{"test": "datum.t >= 349 && datum.c >= datum.o", "value": "#4f9a3c"}, {"test": "datum.t >= 349", "value": "#d65a3a"}, {"test": "datum.c >= datum.o", "value": "#1e5f1e"}], "value": "#b71c1c"}}},
   {"data": {"name": "lines"}, "mark": {"type": "rule", "strokeWidth": 2}, "encoding": {
     "x": {"field": "t1", "type": "quantitative", "axis": null}, "x2": {"field": "t2"},
     "y": {"field": "p1", "type": "quantitative"}, "y2": {"field": "p2"},
     "color": {"field": "k", "type": "nominal", "legend": null}}},
   {"data": {"name": "trade"}, "mark": {"type": "rule", "color": "#8a8a8a", "strokeWidth": 1.5, "strokeDash": [5, 4]}, "encoding": {
     "x": {"field": "t1", "type": "quantitative", "axis": null}, "x2": {"field": "t2"},
     "y": {"field": "p1", "type": "quantitative"}, "y2": {"field": "p2"}}},
   {"data": {"name": "path"}, "mark": {"type": "line", "color": "#1c1c1c", "strokeWidth": 3, "opacity": 0.85}, "encoding": {
     "x": {"field": "t", "type": "quantitative", "axis": null},
     "y": {"field": "p", "type": "quantitative"},
     "order": {"field": "i", "type": "quantitative"}}},
   {"data": {"name": "arrow"}, "mark": {"type": "rule", "color": "#1c1c1c", "strokeWidth": 3, "opacity": 0.85}, "encoding": {
     "x": {"field": "t1", "type": "quantitative", "axis": null}, "x2": {"field": "t2"},
     "y": {"field": "p1", "type": "quantitative"}, "y2": {"field": "p2"}}},
   {"data": {"name": "marker"}, "mark": {"type": "point", "shape": "triangle-down", "filled": true, "color": "#f5c518", "size": 45, "opacity": 1}, "encoding": {
     "x": {"field": "t", "type": "quantitative", "axis": null},
     "y": {"field": "p", "type": "quantitative"}}},
   {"data": {"name": "wedges"}, "mark": {"type": "area", "stroke": "#2b2b2b", "strokeWidth": 2.5, "opacity": 1}, "encoding": {
     "x": {"field": "t", "type": "quantitative", "axis": null},
     "y": {"field": "a", "type": "quantitative"}, "y2": {"field": "b"},
     "color": {"field": "k", "type": "nominal", "legend": null}}},
   {"data": {"name": "notes"}, "mark": {"type": "rect", "stroke": "#2b2b2b", "strokeWidth": 1.5, "cornerRadius": 7}, "encoding": {
     "x": {"field": "t1", "type": "quantitative", "axis": null}, "x2": {"field": "t2"},
     "y": {"field": "p1", "type": "quantitative"}, "y2": {"field": "p2"},
     "color": {"field": "k", "type": "nominal", "legend": null}}},
   {"data": {"name": "wedges"}, "mark": {"type": "area", "opacity": 1}, "encoding": {
     "x": {"field": "t", "type": "quantitative", "axis": null},
     "y": {"field": "a", "type": "quantitative"}, "y2": {"field": "b"},
     "color": {"field": "k", "type": "nominal", "legend": null}}},
   {"data": {"name": "notes"}, "mark": {"type": "text", "align": "left", "baseline": "alphabetic", "font": "Liberation Sans", "fontSize": 28, "fontWeight": "bold", "color": "#ffffff", "lineBreak": "\n", "lineHeight": 28.4}, "encoding": {
     "x": {"field": "tx", "type": "quantitative", "axis": null},
     "y": {"field": "py", "type": "quantitative"},
     "text": {"field": "text"}}},
   {"data": {"name": "dano"}, "mark": {"type": "rect", "fill": "#f6f6f6", "stroke": "#e65100", "strokeWidth": 3, "clip": true}, "encoding": {
     "x": {"field": "t1", "type": "quantitative", "axis": null}, "x2": {"field": "t2"},
     "y": {"field": "p1", "type": "quantitative"}, "y2": {"field": "p2"}}},
   {"data": {"name": "dano"}, "mark": {"type": "text", "align": "right", "baseline": "alphabetic", "font": "Roboto", "fontSize": 31, "color": "#000000"}, "encoding": {
     "x": {"field": "tx", "type": "quantitative", "axis": null},
     "y": {"field": "py", "type": "quantitative"},
     "text": {"field": "text"}}},
   {"data": {"name": "ptool"}, "mark": {"type": "rect", "cornerRadius": 3, "stroke": "#ffffff", "strokeWidth": 1.5}, "encoding": {
     "x": {"field": "t1", "type": "quantitative", "axis": null}, "x2": {"field": "t2"},
     "y": {"field": "p1", "type": "quantitative"}, "y2": {"field": "p2"},
     "color": {"field": "k", "type": "nominal", "legend": null},
     "strokeOpacity": {"condition": {"test": "datum.k == 'pnl'", "value": 1}, "value": 0}}},
   {"data": {"name": "ptool"}, "mark": {"type": "text", "align": "center", "baseline": "middle", "font": "Liberation Sans", "fontSize": 12, "color": "#ffffff", "lineBreak": "\n", "lineHeight": 13}, "encoding": {
     "x": {"field": "tc", "type": "quantitative", "axis": null},
     "y": {"field": "pc", "type": "quantitative"},
     "text": {"field": "text"}}},
   {"data": {"name": "tags"}, "mark": {"type": "rect", "cornerRadius": 2}, "encoding": {
     "x": {"field": "t1", "type": "quantitative", "axis": null}, "x2": {"field": "t2"},
     "y": {"field": "lo", "type": "quantitative"}, "y2": {"field": "hi"},
     "color": {"field": "k", "type": "nominal", "legend": null}}},
   {"data": {"name": "tags"}, "mark": {"type": "text", "align": "center", "baseline": "middle", "font": "Liberation Sans", "fontSize": 12, "fontWeight": "bold", "color": "#ffffff"}, "encoding": {
     "x": {"field": "tx", "type": "quantitative", "axis": null},
     "y": {"field": "at", "type": "quantitative"},
     "text": {"field": "label"}}},
   {"data": {"name": "legendText"}, "mark": {"type": "text", "align": "left", "baseline": "middle", "font": "Liberation Sans", "fontSize": 13, "color": "#555b66"}, "encoding": {
     "x": {"field": "x", "type": "quantitative", "axis": null},
     "y": {"field": "p", "type": "quantitative"},
     "text": {"field": "line"}}}
 ]
},
{
 "width": 1469, "height": 128,
 "layer": [
  {"data": {"name": "bars"}, "mark": {"type": "bar", "size": 2}, "encoding": {
    "x": {"field": "t", "type": "quantitative", "scale": {"domain": [-17.53, 800], "nice": false, "zero": false},
      "axis": {"disable": false, "orient": "bottom", "offset": -28, "values": [0,72,120,168,240,288,336,384,432,480], "labelExpr": "datum.value == 384 ? 'Aug' : (datum.value > 384 ? '' + ((datum.value - 384) / 24 + 1) : '' + (datum.value / 24 + 16))", "title": null, "tickSize": 4, "labelPadding": 3, "labelFlush": false, "labelOverlap": false}},
    "y": {"field": "v", "type": "quantitative", "scale": {"domain": [-19.1, 68.3], "nice": false, "zero": false},
      "axis": {"disable": false, "orient": "right", "offset": -66, "values": [20, 40, 60], "labelExpr": "datum.value + 'M'", "title": null, "tickSize": 4, "labelPadding": 6, "labelFlush": false}},
    "color": {"condition": {"test": "datum.c >= datum.o", "value": "#26a69a"}, "value": "#ef5350"},
    "opacity": {"value": 0.85}}},
  {"data": {"name": "volLabel"}, "mark": {"type": "text", "align": "left", "baseline": "middle", "font": "Liberation Sans", "fontSize": 13, "color": "#555b66"}, "encoding": {
    "x": {"field": "x", "type": "quantitative"},
    "y": {"field": "v", "type": "quantitative"},
    "text": {"field": "label"}}},
  {"data": {"name": "logo"}, "mark": {"type": "text", "align": "left", "baseline": "middle", "font": "Liberation Sans", "fontSize": 17, "fontWeight": "bold", "color": "#e8eaf0"}, "encoding": {
    "x": {"field": "x", "type": "quantitative"},
    "y": {"field": "v", "type": "quantitative"},
    "text": {"field": "label"}}}
 ]
}
]
}
